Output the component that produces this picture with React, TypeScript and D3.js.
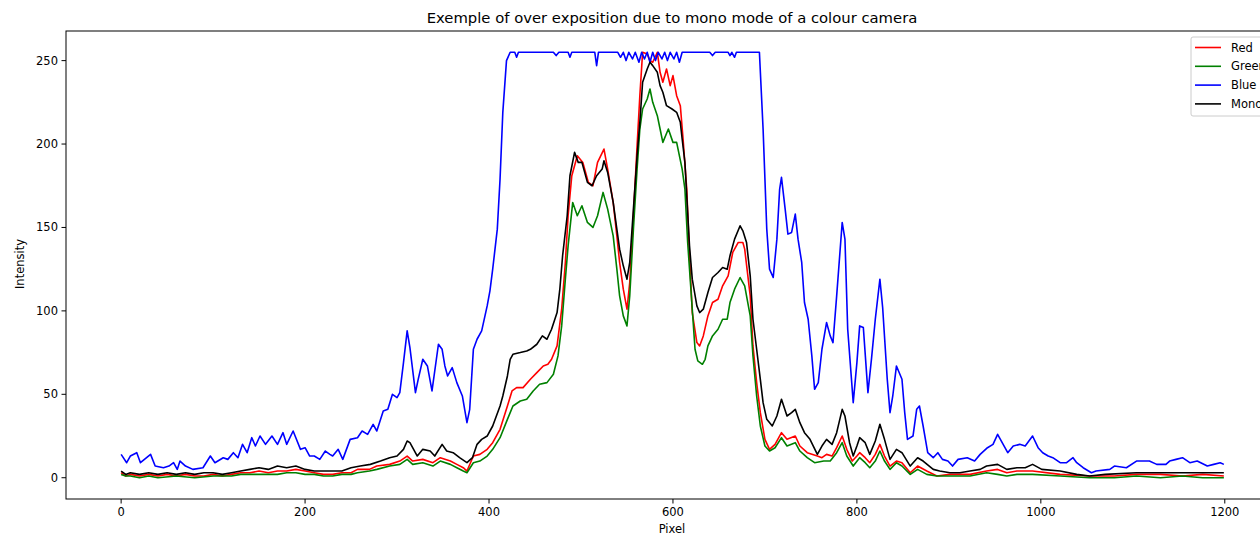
import React from 'react';
import * as d3 from 'd3';

type Pt = [number, number];

const title = 'Exemple of over exposition due to mono mode of a colour camera';
const xTicks = [0, 200, 400, 600, 800, 1000, 1200];
const yTicks = [0, 50, 100, 150, 200, 250];

const redData: Pt[] = [
  [0, 3], [5, 1], [10, 2], [20, 1], [30, 2], [40, 1], [50, 2], [60, 1], [70, 2], [80, 1], [90, 1], [100, 2],
  [110, 1], [120, 2], [130, 3], [140, 3], [150, 4], [160, 3], [170, 4], [180, 4], [190, 5], [200, 4], [210, 3],
  [220, 2], [230, 2], [240, 3], [250, 3], [257, 5], [270, 5], [278, 7], [292, 8], [303, 10], [311, 13], [317, 10],
  [328, 11], [339, 9], [347, 12], [358, 10], [365, 8], [372, 6], [376, 4], [383, 13], [390, 14], [398, 17],
  [404, 21], [412, 29], [420, 43], [425, 52], [430, 54], [437, 54], [445, 59], [452, 63], [459, 67], [464, 68],
  [468, 71], [474, 79], [479, 101], [483, 129], [486, 157], [490, 181], [496, 193], [502, 189], [508, 177],
  [513, 175], [518, 189], [525, 197], [529, 185], [535, 165], [539, 145], [542, 129], [546, 113], [550, 101],
  [553, 117], [557, 157], [561, 199], [564, 229], [567, 255], [572, 254], [575, 250], [578, 249], [583, 255],
  [586, 243], [589, 237], [593, 245], [597, 235], [600, 241], [604, 229], [608, 223], [611, 203], [615, 173],
  [618, 133], [621, 99], [626, 81], [629, 79], [633, 85], [638, 97], [643, 105], [649, 107], [654, 115],
  [660, 121], [665, 135], [671, 141], [676, 141], [678, 137], [684, 109], [687, 79], [691, 57], [695, 39],
  [700, 23], [705, 17], [711, 20], [718, 27], [724, 23], [733, 25], [738, 19], [746, 15], [757, 13], [762, 12],
  [767, 14], [773, 13], [778, 18], [784, 25], [789, 17], [795, 10], [800, 13], [803, 15], [809, 12], [814, 9],
  [820, 14], [825, 20], [830, 13], [836, 7], [843, 10], [849, 9], [858, 3], [866, 7], [876, 4], [887, 1],
  [901, 2], [923, 2], [941, 4], [953, 5], [963, 3], [974, 4], [991, 4], [1021, 2], [1053, 1], [1080, 1],
  [1104, 2], [1130, 2], [1154, 1], [1176, 2], [1199, 1],
];

const greenData: Pt[] = [
  [0, 2], [5, 1], [10, 1], [20, 0], [30, 1], [40, 0], [60, 1], [80, 0], [100, 1], [120, 1], [130, 2], [140, 2],
  [150, 2], [160, 2], [170, 2], [180, 3], [190, 3], [200, 2], [210, 2], [220, 1], [230, 1], [240, 2], [250, 2],
  [257, 3], [270, 4], [278, 5], [292, 7], [303, 8], [311, 11], [317, 8], [328, 9], [339, 7], [347, 10], [358, 8],
  [365, 6], [372, 4], [376, 3], [383, 9], [390, 10], [398, 13], [404, 17], [412, 24], [420, 35], [426, 43],
  [434, 46], [441, 47], [448, 52], [455, 56], [463, 57], [470, 62], [475, 73], [479, 91], [483, 119], [486, 139],
  [491, 165], [496, 157], [501, 163], [507, 153], [513, 150], [518, 157], [524, 171], [529, 161], [535, 145],
  [539, 125], [542, 109], [546, 97], [550, 91], [553, 109], [557, 149], [561, 185], [564, 209], [567, 221],
  [572, 227], [575, 233], [578, 225], [583, 217], [586, 209], [589, 201], [595, 209], [600, 201], [604, 201],
  [610, 185], [613, 173], [616, 141], [620, 109], [624, 77], [627, 70], [632, 68], [635, 71], [638, 79],
  [643, 85], [649, 89], [654, 95], [659, 95], [662, 105], [667, 113], [673, 120], [678, 115], [684, 97],
  [687, 73], [691, 49], [695, 31], [700, 19], [705, 16], [711, 18], [718, 24], [724, 19], [733, 21], [738, 16],
  [746, 12], [754, 9], [764, 10], [771, 10], [778, 15], [784, 21], [789, 13], [796, 7], [803, 12], [809, 9],
  [814, 6], [820, 10], [825, 16], [830, 10], [836, 5], [843, 9], [849, 7], [858, 2], [866, 5], [876, 2],
  [887, 1], [901, 1], [923, 1], [941, 3], [953, 2], [963, 1], [974, 2], [991, 2], [1021, 1], [1053, 0],
  [1080, 0], [1104, 1], [1130, 0], [1154, 1], [1176, 0], [1199, 0],
];

const blueData: Pt[] = [
  [0, 14], [6, 9], [10, 13], [17, 15], [21, 9], [32, 14], [37, 7], [46, 6], [52, 7], [57, 9], [61, 5], [64, 10],
  [70, 7], [78, 5], [89, 6], [97, 13], [102, 9], [111, 12], [116, 11], [122, 15], [127, 12], [132, 20], [137, 15],
  [142, 24], [146, 19], [151, 25], [157, 20], [164, 25], [170, 20], [176, 27], [180, 20], [187, 28], [195, 17],
  [200, 18], [205, 13], [210, 13], [216, 11], [222, 16], [227, 14], [230, 13], [236, 17], [241, 11], [249, 23],
  [257, 24], [262, 28], [268, 26], [274, 32], [278, 28], [285, 40], [290, 41], [295, 50], [300, 48], [303, 51],
  [307, 69], [311, 88], [314, 78], [320, 51], [323, 59], [328, 71], [333, 67], [338, 52], [345, 80], [349, 77],
  [352, 67], [355, 61], [360, 66], [365, 57], [371, 49], [376, 33], [379, 41], [383, 77], [387, 83], [392, 88],
  [398, 103], [401, 112], [404, 125], [409, 149], [412, 179], [415, 219], [419, 250], [423, 255], [428, 255],
  [430, 252], [432, 255], [470, 255], [473, 253], [476, 255], [486, 255], [488, 252], [490, 255], [515, 255],
  [517, 247], [519, 255], [540, 255], [543, 252], [546, 255], [549, 250], [552, 255], [556, 251], [559, 255],
  [563, 249], [566, 255], [569, 251], [572, 255], [575, 249], [578, 255], [581, 250], [584, 255], [588, 251],
  [591, 255], [594, 250], [597, 255], [601, 251], [604, 255], [607, 249], [610, 255], [640, 255], [643, 253],
  [646, 255], [660, 255], [662, 253], [664, 255], [667, 252], [669, 255], [694, 255], [698, 209], [702, 149],
  [705, 125], [709, 120], [713, 143], [716, 173], [718, 180], [722, 161], [725, 146], [729, 147], [733, 158],
  [736, 143], [740, 129], [743, 105], [747, 95], [751, 73], [754, 53], [758, 57], [762, 77], [767, 93],
  [771, 85], [774, 81], [778, 109], [784, 153], [787, 143], [790, 89], [796, 45], [800, 69], [803, 91],
  [807, 90], [812, 51], [816, 72], [820, 95], [825, 119], [828, 102], [833, 59], [836, 39], [839, 49], [843, 67],
  [849, 59], [852, 39], [855, 23], [861, 25], [865, 41], [868, 43], [872, 31], [877, 15], [883, 12], [888, 15],
  [893, 11], [899, 10], [904, 7], [910, 11], [920, 12], [928, 10], [934, 14], [942, 18], [948, 20], [953, 26],
  [961, 18], [964, 15], [970, 19], [977, 20], [983, 19], [991, 25], [997, 18], [1002, 15], [1008, 13],
  [1013, 12], [1021, 9], [1028, 9], [1035, 12], [1039, 9], [1046, 6], [1055, 3], [1060, 4], [1075, 5],
  [1080, 7], [1093, 6], [1104, 10], [1118, 10], [1126, 8], [1136, 8], [1140, 10], [1147, 11], [1154, 12],
  [1162, 9], [1170, 10], [1181, 7], [1188, 8], [1195, 9], [1199, 8],
];

const monoData: Pt[] = [
  [0, 4], [5, 2], [10, 3], [20, 2], [30, 3], [40, 2], [50, 3], [60, 2], [70, 3], [80, 2], [90, 3], [100, 3],
  [110, 2], [120, 3], [130, 4], [140, 5], [150, 6], [160, 5], [170, 7], [180, 6], [190, 7], [200, 5], [210, 4],
  [220, 4], [230, 4], [240, 4], [250, 6], [260, 7], [271, 8], [282, 10], [292, 12], [300, 13], [307, 17],
  [311, 22], [314, 21], [322, 13], [328, 17], [336, 16], [341, 13], [349, 20], [354, 16], [361, 15], [368, 12],
  [376, 9], [382, 12], [387, 20], [392, 23], [398, 25], [401, 28], [404, 31], [412, 43], [415, 49], [420, 61],
  [423, 71], [426, 74], [434, 75], [441, 76], [445, 77], [452, 80], [458, 85], [463, 83], [468, 89], [474, 99],
  [477, 113], [480, 133], [485, 157], [488, 181], [493, 195], [497, 189], [501, 189], [507, 177], [512, 175],
  [517, 181], [523, 185], [525, 190], [529, 183], [535, 165], [539, 149], [542, 137], [546, 127], [550, 119],
  [553, 129], [557, 161], [561, 193], [564, 213], [567, 237], [572, 245], [575, 249], [578, 247], [583, 243],
  [586, 235], [589, 231], [593, 223], [599, 221], [604, 219], [608, 213], [610, 203], [613, 189], [616, 159],
  [618, 139], [621, 119], [626, 103], [629, 99], [633, 101], [638, 111], [643, 120], [649, 123], [654, 126],
  [659, 125], [662, 133], [667, 143], [673, 151], [676, 148], [680, 141], [684, 121], [687, 95], [691, 77],
  [695, 59], [698, 45], [702, 35], [708, 31], [713, 37], [718, 47], [724, 37], [729, 39], [733, 41], [738, 33],
  [743, 27], [749, 23], [757, 14], [762, 19], [767, 23], [773, 20], [778, 27], [784, 41], [787, 37], [792, 21],
  [796, 13], [800, 19], [803, 24], [809, 21], [814, 14], [820, 22], [825, 32], [830, 23], [836, 11], [843, 17],
  [849, 15], [858, 7], [866, 12], [872, 10], [883, 5], [890, 4], [901, 3], [912, 3], [923, 4], [934, 5],
  [941, 7], [953, 8], [963, 5], [974, 6], [983, 6], [991, 8], [1001, 5], [1021, 4], [1039, 2], [1053, 1],
  [1070, 2], [1104, 3], [1130, 3], [1154, 3], [1176, 3], [1199, 3],
];

const series = [
  { name: 'Red', color: '#ff0000', data: redData },
  { name: 'Green', color: '#008000', data: greenData },
  { name: 'Blue', color: '#0000ff', data: blueData },
  { name: 'Mono', color: '#000000', data: monoData },
];

const W = 1260;
const H = 536;
const margin = { left: 66, right: 1279, top: 31, bottom: 499 };
const font = 'DejaVu Sans, sans-serif';
const tickSize = 11.5;

export default function App() {
  const x = d3.scaleLinear().domain([-59.95, 1258.95]).range([margin.left, margin.right]);
  const y = d3.scaleLinear().domain([-12.75, 267.75]).range([margin.bottom, margin.top]);
  const line = d3.line<Pt>().x(d => x(d[0])).y(d => y(d[1]));

  return (
    <svg width={W} height={H} style={{ position: 'absolute', left: 0, top: 0, background: '#fff' }}>
      <defs>
        <clipPath id="plot">
          <rect x={margin.left} y={margin.top} width={margin.right - margin.left} height={margin.bottom - margin.top} />
        </clipPath>
      </defs>
      <rect width={W} height={H} fill="#fff" />
      <g clipPath="url(#plot)">
        {series.map(s => (
          <path key={s.name} d={line(s.data) || ''} fill="none" stroke={s.color} strokeWidth={1.6} strokeLinejoin="round" />
        ))}
      </g>
      {/* spines */}
      <rect x={margin.left} y={margin.top} width={margin.right - margin.left} height={margin.bottom - margin.top}
        fill="none" stroke="#000" strokeWidth={1} />
      {/* x axis */}
      {xTicks.map(t => (
        <g key={t} transform={`translate(${x(t)},${margin.bottom})`}>
          <line y2={4.5} stroke="#000" strokeWidth={1} />
          <text y={17} textAnchor="middle" fontFamily={font} fontSize={tickSize} fill="#000">{t}</text>
        </g>
      ))}
      {yTicks.map(t => (
        <g key={t} transform={`translate(${margin.left},${y(t)})`}>
          <line x2={-4.5} stroke="#000" strokeWidth={1} />
          <text x={-8} dy="0.35em" textAnchor="end" fontFamily={font} fontSize={tickSize} fill="#000">{t}</text>
        </g>
      ))}
      <text x={672} y={533} textAnchor="middle" fontFamily={font} fontSize={tickSize} fill="#000">Pixel</text>
      <text transform="translate(24,264) rotate(-90)" textAnchor="middle" fontFamily={font} fontSize={tickSize} fill="#000">Intensity</text>
      <text x={672} y={23} textAnchor="middle" fontFamily={font} fontSize={14.8} fill="#000">{title}</text>
      {/* legend */}
      <g transform="translate(1191,37)">
        <rect x={0} y={0} width={82} height={79} rx={2} fill="#fff" fillOpacity={0.8} stroke="#ccc" strokeWidth={1} />
        {series.map((s, i) => (
          <g key={s.name} transform={`translate(0,${10.5 + i * 18.8})`}>
            <line x1={4} x2={30} stroke={s.color} strokeWidth={1.6} />
            <text x={40} dy="0.35em" fontFamily={font} fontSize={tickSize} fill="#000">{s.name}</text>
          </g>
        ))}
      </g>
    </svg>
  );
}
